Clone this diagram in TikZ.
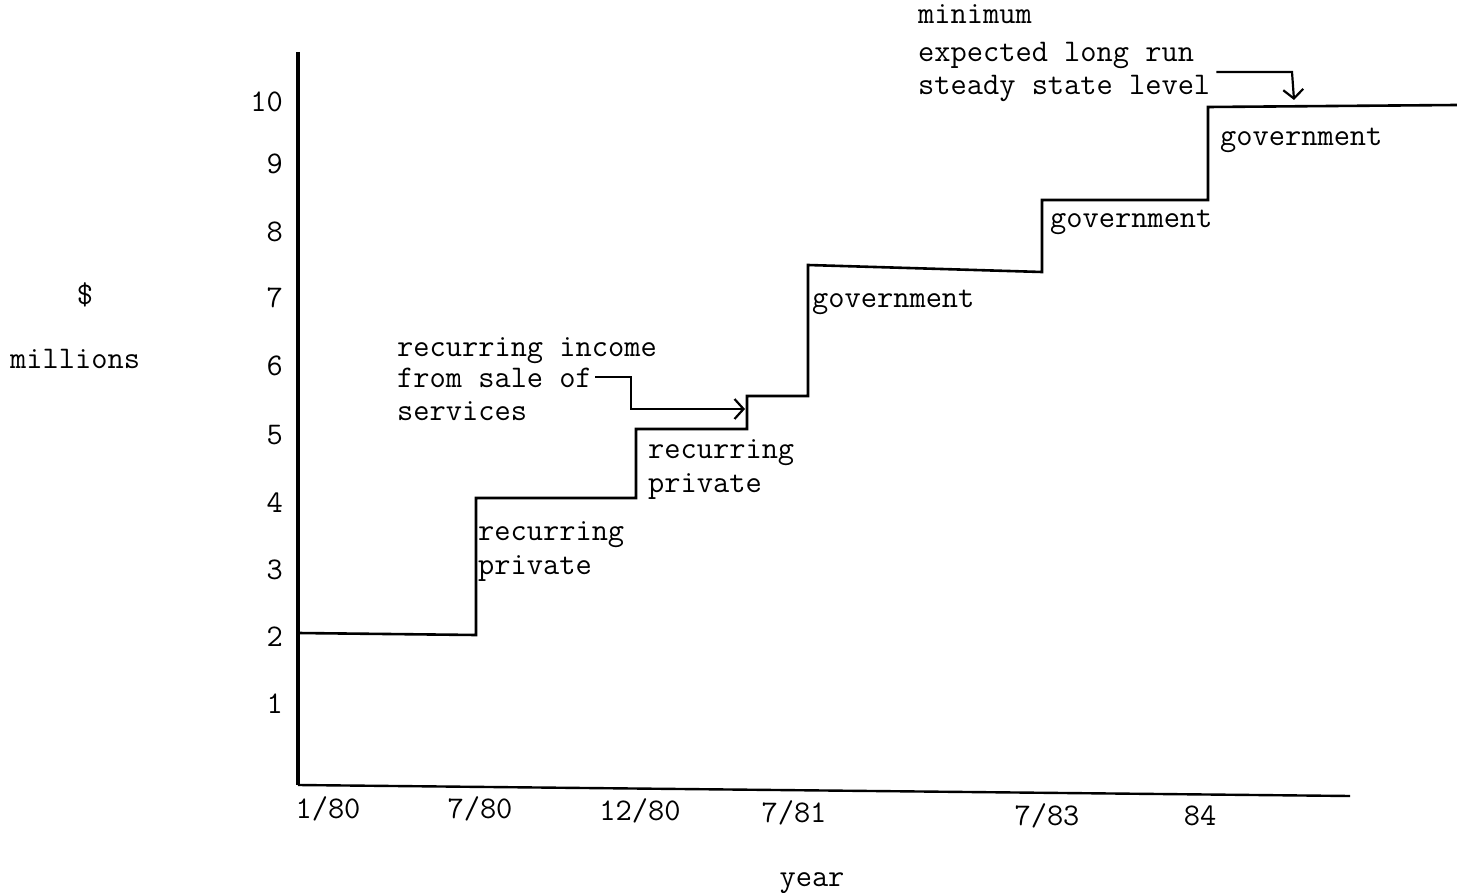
\documentclass[tikz,border=0pt]{standalone}
\usepackage{fontspec}
\usetikzlibrary{arrows.meta}
\begin{document}
\begin{tikzpicture}[x=1pt,y=-1pt,
  lbl/.style={inner sep=0pt,font=\ttfamily\fontsize{31.5}{35}\selectfont},
  tl/.style={lbl,anchor=base west},
  ax/.style={line width=3.6pt},
  stepline/.style={line width=2.6pt,line join=miter},
  callout/.style={line width=2.2pt,-{Straight Barb[length=9pt,width=20pt,line width=2.2pt]}}]
\useasboundingbox (0,0) rectangle (1457,893);
% axes
\coordinate (o) at (298,785);
\coordinate (ytop) at (298,52);
\coordinate (xend) at (1350,796);
\draw[ax] (ytop) -- (o);
\draw[line width=2.4pt] (o) -- (xend);
% y labels
\foreach \v/\yy in {10/112,9/174,8/242,7/308,6/375,5/444,4/512,3/579,2/646,1/713}
  \node[lbl,anchor=base east] (y\v) at (283,\yy) {\v};
% x labels
\node[lbl,anchor=base] (x1) at (328,818) {1/80};
\node[lbl,anchor=base] (x2) at (480,818) {7/80};
\node[lbl,anchor=base] (x3) at (640,820) {12/80};
\node[lbl,anchor=base] (x4) at (794,822) {7/81};
\node[lbl,anchor=base] (x5) at (1047,825) {7/83};
\node[lbl,anchor=base] (x6) at (1200,825) {84};
\node[lbl,anchor=base] (year) at (812,886) {year};
\node[lbl,anchor=base] (dollar) at (85,305) {\$};
\node[tl] (mill) at (10,369) {millions};
% step function
\draw[stepline] (298,633) -- (476,635) -- (476,498) -- (636,498) -- (636,429)
  -- (747,429) -- (747,396) -- (808,396) -- (808,265) -- (1042,272) -- (1042,200)
  -- (1208,200) -- (1208,107) -- (1457,105);
% labels
\node[tl] (g3) at (1220,146) {government};
\node[tl] (g2) at (1050,228) {government};
\node[tl] (g1) at (812,308) {government};
\node[tl] (rp2a) at (648,458) {recurring};
\node[tl] (rp2b) at (648,492) {private};
\node[tl] (rp1a) at (478,540) {recurring};
\node[tl] (rp1b) at (478,574) {private};
\node[tl] (ri1) at (397,357) {recurring income};
\node[tl] (ri2) at (397,388) {from sale of};
\node[tl] (ri3) at (397,420) {services};
\node[tl] (m1) at (918,24) {minimum};
\node[tl] (m2) at (918,62) {expected long run};
\node[tl] (m3) at (918,95) {steady state level};
% callouts
\coordinate (c1) at (631,377);
\coordinate (c2) at (631,409);
\coordinate (c3) at (745,409);
\draw[callout] ([xshift=3pt]c1 -| ri2.east) -- (c1) -- (c2) -- (c3);
\coordinate (d1) at (1292,72);
\coordinate (d2) at (1294,100);
\draw[callout] ([xshift=6pt]d1 -| m3.east) -- (d1) -- (d2);
\end{tikzpicture}
\end{document}
